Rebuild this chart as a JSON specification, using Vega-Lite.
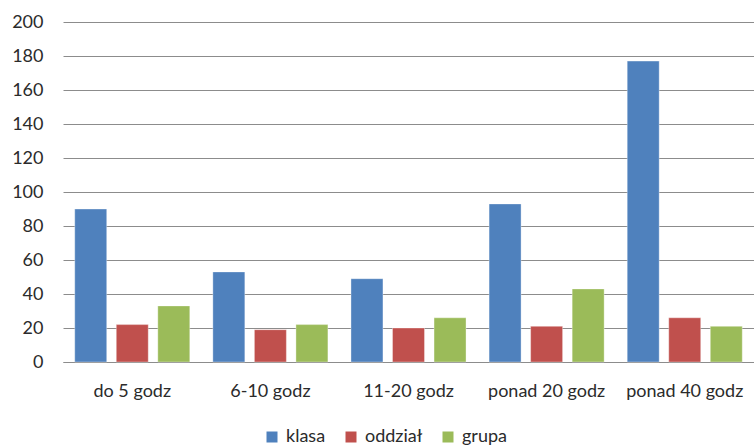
{
  "$schema": "https://vega.github.io/schema/vega-lite/v6.json",
  "autosize": {"type": "none"},
  "width": 691,
  "height": 340,
  "padding": {"left": 63, "top": 22, "right": 0, "bottom": 84},
  "background": "white",
  "data": {
    "values": [
      {"kat": "do 5 godz", "seria": "klasa", "v": 90},
      {"kat": "do 5 godz", "seria": "oddział", "v": 22},
      {"kat": "do 5 godz", "seria": "grupa", "v": 33},
      {"kat": "6-10 godz", "seria": "klasa", "v": 53},
      {"kat": "6-10 godz", "seria": "oddział", "v": 19},
      {"kat": "6-10 godz", "seria": "grupa", "v": 22},
      {"kat": "11-20 godz", "seria": "klasa", "v": 49},
      {"kat": "11-20 godz", "seria": "oddział", "v": 20},
      {"kat": "11-20 godz", "seria": "grupa", "v": 26},
      {"kat": "ponad 20 godz", "seria": "klasa", "v": 93},
      {"kat": "ponad 20 godz", "seria": "oddział", "v": 21},
      {"kat": "ponad 20 godz", "seria": "grupa", "v": 43},
      {"kat": "ponad 40 godz", "seria": "klasa", "v": 177},
      {"kat": "ponad 40 godz", "seria": "oddział", "v": 26},
      {"kat": "ponad 40 godz", "seria": "grupa", "v": 21}
    ]
  },
  "mark": {"type": "bar", "stroke": "#ffffff", "strokeOpacity": 0.35, "strokeWidth": 1},
  "encoding": {
    "x": {
      "field": "kat",
      "type": "nominal",
      "sort": null,
      "title": null,
      "scale": {"paddingInner": 0.167, "paddingOuter": 0.085},
      "axis": {
        "labelAngle": 0,
        "labelFont": "Lato",
        "labelFontSize": 18,
        "labelColor": "#2b2b2b",
        "labelPadding": 20,
        "ticks": false,
        "domainColor": "#8c8c8c",
        "domainWidth": 1,
        "grid": false
      }
    },
    "xOffset": {
      "field": "seria",
      "type": "nominal",
      "sort": ["klasa", "oddział", "grupa"],
      "scale": {"paddingInner": 0.23, "paddingOuter": 0}
    },
    "y": {
      "field": "v",
      "type": "quantitative",
      "title": null,
      "scale": {"domain": [0, 200], "nice": false},
      "axis": {
        "values": [0, 20, 40, 60, 80, 100, 120, 140, 160, 180, 200],
        "labelFont": "Lato",
        "labelFontSize": 18,
        "labelColor": "#2b2b2b",
        "labelPadding": 20,
        "ticks": false,
        "domain": false,
        "grid": true,
        "gridColor": "#8c8c8c",
        "gridWidth": 1
      }
    },
    "color": {
      "field": "seria",
      "type": "nominal",
      "sort": ["klasa", "oddział", "grupa"],
      "scale": {"domain": ["klasa", "oddział", "grupa"], "range": ["#4F81BD", "#C0504D", "#9BBB59"]},
      "legend": {
        "title": null,
        "orient": "none",
        "direction": "horizontal",
        "legendX": 200,
        "legendY": 406,
        "symbolType": "square",
        "symbolSize": 121,
        "symbolStrokeWidth": 0,
        "labelFont": "Lato",
        "labelFontSize": 18,
        "labelColor": "#2b2b2b",
        "labelOffset": 5,
        "columnPadding": 16
      }
    }
  },
  "config": {"view": {"stroke": null}}
}
